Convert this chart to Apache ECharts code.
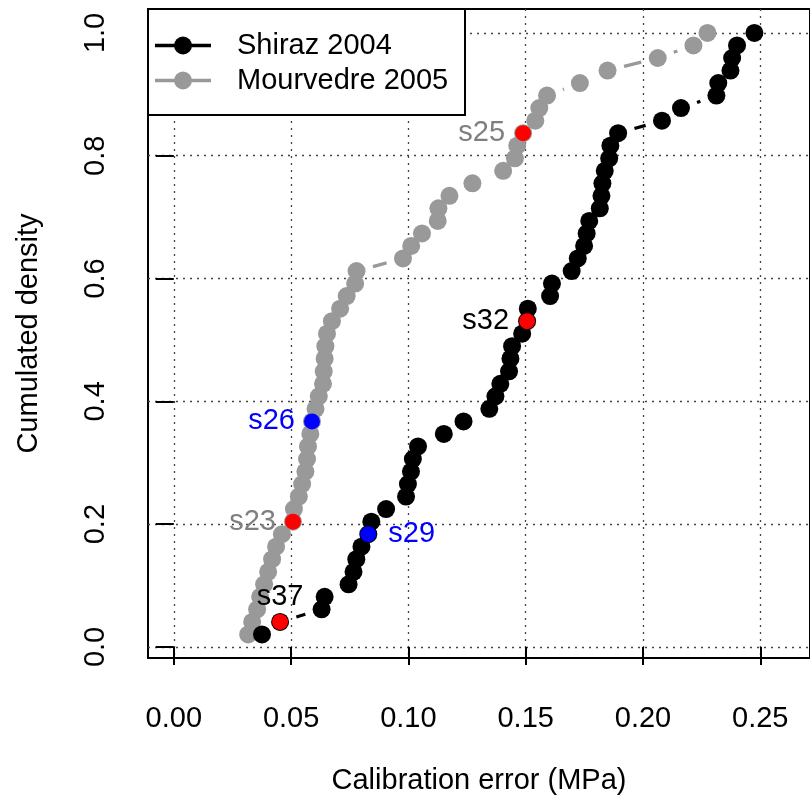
<!DOCTYPE html>
<html><head><meta charset="utf-8">
<script src="https://cdn.jsdelivr.net/npm/echarts@6/dist/echarts.min.js"></script>
<style>html,body{margin:0;padding:0;background:#fff}#c{width:810px;height:805px}</style>
</head><body><div id="c"></div>
<script>
// Cumulated density levels (rank / 49)
const cumDensity = [0.0204,0.0408,0.0612,0.0816,0.1020,0.1224,0.1429,0.1633,0.1837,0.2041,
  0.2245,0.2449,0.2653,0.2857,0.3061,0.3265,0.3469,0.3673,0.3878,0.4082,
  0.4286,0.4490,0.4694,0.4898,0.5102,0.5306,0.5510,0.5714,0.5918,0.6122,
  0.6327,0.6531,0.6735,0.6939,0.7143,0.7347,0.7551,0.7755,0.7959,0.8163,
  0.8367,0.8571,0.8776,0.8980,0.9184,0.9388,0.9592,0.9796,1.0000];
// Calibration error (MPa), sorted
const shirazError = [0.0376,0.0453,0.0630,0.0643,0.0745,0.0766,0.0778,0.0800,0.0829,0.0842,
  0.0905,0.0990,0.0998,0.1011,0.1019,0.1041,0.1151,0.1235,0.1345,0.1371,
  0.1392,0.1429,0.1435,0.1442,0.1485,0.1506,0.1509,0.1604,0.1612,0.1696,
  0.1722,0.1749,0.1760,0.1771,0.1816,0.1823,0.1827,0.1837,0.1856,0.1861,
  0.1894,0.2081,0.2162,0.2313,0.2321,0.2373,0.2380,0.2401,0.2475];
const mourvedreError = [0.0317,0.0334,0.0355,0.0368,0.0385,0.0402,0.0419,0.0436,0.0461,0.0508,
  0.0512,0.0533,0.0547,0.0561,0.0568,0.0572,0.0582,0.0589,0.0604,0.0618,
  0.0636,0.0639,0.0643,0.0646,0.0653,0.0674,0.0709,0.0737,0.0773,0.0779,
  0.0977,0.1012,0.1058,0.1125,0.1128,0.1175,0.1273,0.1404,0.1454,0.1464,
  0.1489,0.1541,0.1558,0.1591,0.1731,0.1849,0.2063,0.2215,0.2275];
const xTicks = [0, 0.05, 0.10, 0.15, 0.20, 0.25];
const yTicks = [0, 0.2, 0.4, 0.6, 0.8, 1.0];
const seriesNames = ['Shiraz 2004', 'Mourvedre 2005'];
// Highlighted sites: name, series, rank (1-based)
const siteNames = ['s37', 's29', 's32', 's23', 's26', 's25'];
const siteSeries = ['Shiraz 2004', 'Shiraz 2004', 'Shiraz 2004', 'Mourvedre 2005', 'Mourvedre 2005', 'Mourvedre 2005'];
const siteRank = [2, 9, 26, 10, 18, 41];

const FONT = "'Liberation Sans', Arial, Helvetica, sans-serif";
const FS = 29;
const seriesX = {'Shiraz 2004': shirazError, 'Mourvedre 2005': mourvedreError};
const seriesColor = {'Shiraz 2004': '#000000', 'Mourvedre 2005': '#999999'};
const siteStyle = {
  s37: {fill: '#ff0000', text: '#000000', pos: 'top', dist: 2},
  s29: {fill: '#0000ff', text: '#0000ff', pos: 'right', dist: 12},
  s32: {fill: '#ff0000', text: '#000000', pos: 'left', dist: 10},
  s23: {fill: '#ff0000', text: '#7f7f7f', pos: 'left', dist: 9},
  s26: {fill: '#0000ff', text: '#0000ff', pos: 'left', dist: 9},
  s25: {fill: '#ff0000', text: '#7f7f7f', pos: 'left', dist: 10}
};

function gapLines(name, z) {
  const xs = seriesX[name];
  const color = seriesColor[name];
  return {
    type: 'custom', name: name + ' line', coordinateSystem: 'cartesian2d', silent: true, z: z,
    data: xs.map((x, i) => [x, cumDensity[i]]),
    encode: {x: 0, y: 1},
    renderItem(params, api) {
      const i = params.dataIndex;
      if (i === 0) return null;
      const p0 = api.coord([xs[i - 1], cumDensity[i - 1]]);
      const p1 = api.coord([xs[i], cumDensity[i]]);
      const dx = p1[0] - p0[0], dy = p1[1] - p0[1];
      const d = Math.hypot(dx, dy);
      const g = 17;
      if (d <= 2 * g) return null;
      const ux = dx / d, uy = dy / d;
      return {type: 'line', shape: {x1: p0[0] + ux * g, y1: p0[1] + uy * g, x2: p1[0] - ux * g, y2: p1[1] - uy * g},
        style: {stroke: color, lineWidth: 3.2}};
    }
  };
}
function pointSeries(name, z) {
  return {
    type: 'scatter', name: name, silent: true, z: z, symbol: 'circle', symbolSize: 18,
    itemStyle: {color: seriesColor[name], opacity: 1},
    data: seriesX[name].map((x, i) => [x, cumDensity[i]])
  };
}
const siteData = siteNames.map((n, k) => {
  const s = siteStyle[n];
  const idx = siteRank[k] - 1;
  return {
    name: n,
    value: [seriesX[siteSeries[k]][idx], cumDensity[idx]],
    itemStyle: {color: s.fill, opacity: 1},
    label: {show: true, formatter: n, position: s.pos, distance: s.dist, color: s.text,
      fontSize: FS, fontFamily: FONT, opacity: 1}
  };
});

const chart = echarts.init(document.getElementById('c'), null, {renderer: 'canvas'});
chart.setOption({
  animation: false,
  backgroundColor: '#ffffff',
  grid: {left: 148, top: 9, width: 667, height: 649, show: true, borderColor: '#000', borderWidth: 2, backgroundColor: 'transparent'},
  xAxis: {
    type: 'value', min: -0.011, max: 0.2712,
    axisLine: {show: false},
    axisTick: {show: true, customValues: xTicks, length: 18, lineStyle: {color: '#000', width: 2}},
    axisLabel: {customValues: xTicks, formatter: v => v.toFixed(2), fontSize: FS, color: '#000', margin: 46, fontFamily: FONT},
    splitLine: {show: true, lineStyle: {color: '#444', type: [2, 5], width: 1.3}},
    name: 'Calibration error (MPa)', nameLocation: 'middle', nameGap: 108,
    nameTextStyle: {fontSize: FS, color: '#000', fontFamily: FONT}
  },
  yAxis: {
    type: 'value', min: -0.018, max: 1.039,
    axisLine: {show: false},
    axisTick: {show: true, customValues: yTicks, length: 18, lineStyle: {color: '#000', width: 2}},
    axisLabel: {customValues: yTicks, formatter: v => v.toFixed(1), rotate: 90, fontSize: FS, color: '#000', margin: 38, fontFamily: FONT},
    splitLine: {show: true, lineStyle: {color: '#444', type: [2, 5], width: 1.3}},
    name: 'Cumulated density', nameLocation: 'middle', nameGap: 105,
    nameTextStyle: {fontSize: FS, color: '#000', fontFamily: FONT}
  },
  series: [
    gapLines('Mourvedre 2005', 2),
    pointSeries('Mourvedre 2005', 3),
    gapLines('Shiraz 2004', 4),
    pointSeries('Shiraz 2004', 5),
    {type: 'scatter', name: 'sites', silent: true, z: 6, symbol: 'circle', symbolSize: 16,
      itemStyle: {opacity: 1}, data: siteData}
  ],
  graphic: [
    {type: 'rect', z: 100, shape: {x: 148, y: 9, width: 317, height: 106}, style: {fill: '#fff', stroke: '#000', lineWidth: 2}},
    {type: 'line', z: 101, shape: {x1: 155, y1: 45.5, x2: 211, y2: 45.5}, style: {stroke: seriesColor['Shiraz 2004'], lineWidth: 3.5}},
    {type: 'circle', z: 102, shape: {cx: 183, cy: 45.5, r: 9}, style: {fill: seriesColor['Shiraz 2004']}},
    {type: 'text', z: 102, x: 237, y: 46, style: {text: seriesNames[0], fontSize: FS, fontFamily: FONT, fill: '#000', verticalAlign: 'middle'}},
    {type: 'line', z: 101, shape: {x1: 155, y1: 80.5, x2: 211, y2: 80.5}, style: {stroke: seriesColor['Mourvedre 2005'], lineWidth: 3.5}},
    {type: 'circle', z: 102, shape: {cx: 183, cy: 80.5, r: 9}, style: {fill: seriesColor['Mourvedre 2005']}},
    {type: 'text', z: 102, x: 237, y: 81, style: {text: seriesNames[1], fontSize: FS, fontFamily: FONT, fill: '#000', verticalAlign: 'middle'}}
  ]
});
</script>
</body></html>
